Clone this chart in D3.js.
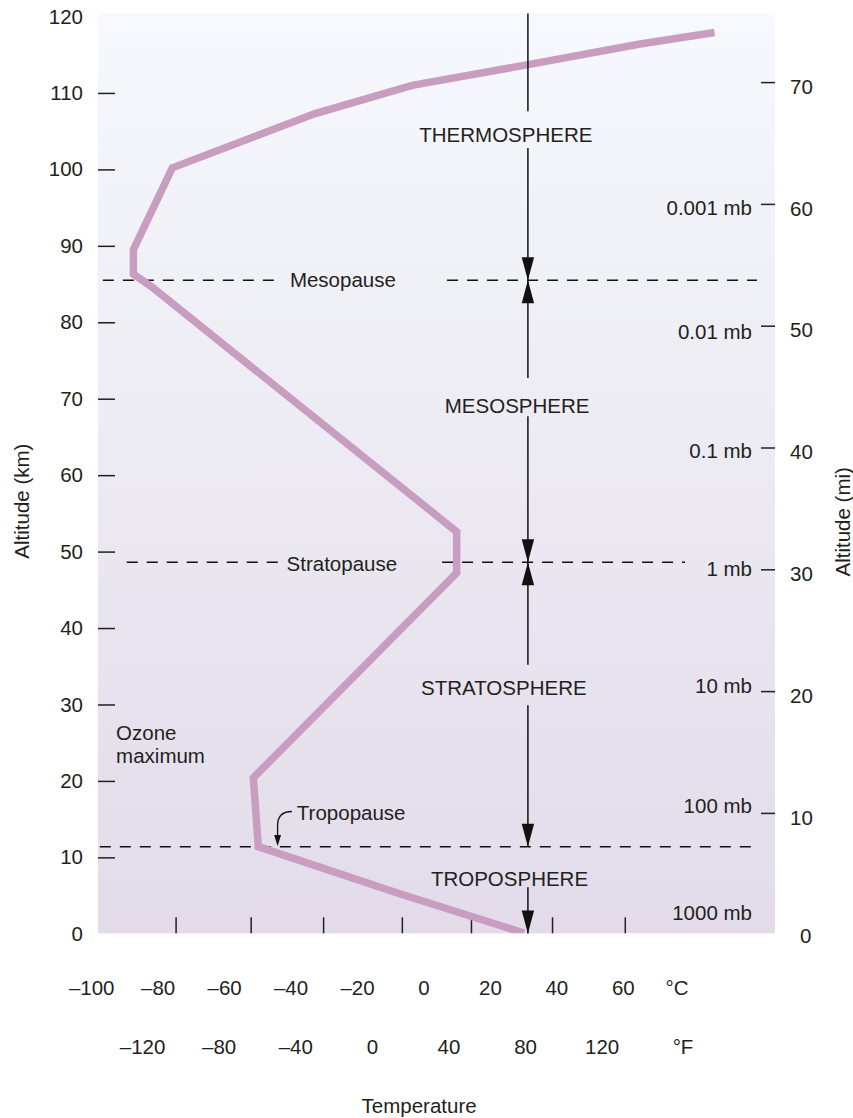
<!DOCTYPE html>
<html><head><meta charset="utf-8">
<script src="https://cdn.jsdelivr.net/npm/d3@7"></script>
<style>
body{margin:0;background:#fff}
text{font-family:"Liberation Sans",Arial,Helvetica,sans-serif;fill:#231f20;font-size:20.5px}
</style>
</head><body>
<svg id="chart" width="853" height="1118"></svg>
<script>
// ---------- data ----------
const profileAltKm = [117.9, 116.4, 113.7, 111.0, 107.3, 100.2, 89.5, 86.3, 84.6, 52.6, 47.2, 20.4, 11.4, 5.3, 0.1];
const profileTempC = [87.6, 65.2, 31.5, -3.4, -32.6, -75.6, -87.3, -87.3, -81.7, 10.0, 10.0, -51.2, -49.7, -7.6, 30.3];

const kmTicks = [0, 10, 20, 30, 40, 50, 60, 70, 80, 90, 100, 110, 120];
const kmTickMarks = [10, 20, 30, 40, 50, 60, 70, 80, 90, 100, 110];
const miTicks = [0, 10, 20, 30, 40, 50, 60, 70];
const miTickMarks = [10, 20, 30, 40, 50, 60, 70];
const celsiusTicks = [-100, -80, -60, -40, -20, 0, 20, 40, 60];
const fahrenheitTicks = [-120, -80, -40, 0, 40, 80, 120];
const tempTickMarksC = [-74.6, -52.0, -30.2, -6.5, 14.3, 38.7, 60.6];

const pressureLabels = ["0.001 mb", "0.01 mb", "0.1 mb", "1 mb", "10 mb", "100 mb", "1000 mb"];
const pressureAltMi = [59.7, 49.5, 39.7, 30.0, 20.4, 10.6, 1.8];

const boundaryNames = ["Mesopause", "Stratopause", "Tropopause"];
const boundaryAltKm = [85.5, 48.6, 11.4];
const boundaryDashSpansC = [
  [[-96.5, -42.6], [7.1, 100.4]],
  [[-89.3, -43.2], [5.6, 78.7]],
  [[-97.4, 99.0]]
];
const boundaryLabelTempC = [-40.2, -41.2, -38.1];
const boundaryLabelAltKm = [84.6, 47.5, 14.9];

const layerNames = ["THERMOSPHERE", "MESOSPHERE", "STRATOSPHERE", "TROPOSPHERE"];
const layerLabelAltKm = [103.6, 68.1, 31.2, 6.3];
const layerLabelTempC = [24.8, 28.2, 24.2, 25.9];

const arrowTempC = 31.44;
// [from km, to km, arrowhead at "to" end]
const arrowSegments = [
  [120.4, 107.6, false],
  [102.8, 85.5, true],
  [72.7, 85.5, true],
  [67.7, 48.6, true],
  [35.2, 48.6, true],
  [29.9, 11.4, true],
  [6.1, 0.05, true]
];

// ---------- layout ----------
const svg = d3.select("#chart");
const plotLeft = 98, plotRight = 775, plotTop = 13, plotBottom = 933.3;

const y = d3.scaleLinear().domain([0, 120]).range([933.8, 16.5]);
const yMi = d3.scaleLinear().domain([0, 70]).range([934.7, 82.1]);
const xC = d3.scaleLinear().domain([-98, 105.8]).range([423.45 - 98 * 3.3225, 423.45 + 105.8 * 3.3225]);
const xF = d3.scaleLinear().domain([-120, 120]).range([371.86 - 120 * 1.915, 371.86 + 120 * 1.915]);

// background gradient
const defs = svg.append("defs");
const grad = defs.append("linearGradient").attr("id", "bg").attr("x1", 0).attr("x2", 0).attr("y1", 0).attr("y2", 1);
grad.append("stop").attr("offset", "0%").attr("stop-color", "#f6f9fd");
grad.append("stop").attr("offset", "55%").attr("stop-color", "#ebe8f1");
grad.append("stop").attr("offset", "100%").attr("stop-color", "#e3dbea");
defs.append("clipPath").attr("id", "plotClip").append("rect")
  .attr("x", plotLeft).attr("y", plotTop).attr("width", plotRight - plotLeft).attr("height", plotBottom - plotTop);

svg.append("rect").attr("x", plotLeft).attr("y", plotTop).attr("width", plotRight - plotLeft).attr("height", plotBottom - plotTop)
  .attr("fill", "url(#bg)");

// ---------- left axis (km) ----------
const gL = svg.append("g").attr("transform", `translate(${plotLeft},0)`);
gL.call(d3.axisLeft(y).tickValues(kmTicks).tickSize(0).tickPadding(15).tickFormat(d3.format("d")));
gL.append("g").call(d3.axisRight(y).tickValues(kmTickMarks).tickSize(17).tickFormat(""));
gL.selectAll(".domain").remove();
gL.selectAll("text").style("font-size", "20.5px").attr("font-family", null);
gL.selectAll("line").attr("stroke", "#231f20").attr("stroke-width", 1.5);

// ---------- right axis (mi) ----------
const gR = svg.append("g").attr("transform", `translate(${plotRight},0)`);
gR.call(d3.axisRight(yMi).tickValues(miTicks).tickSize(0).tickPadding(15).tickFormat(d3.format("d")));
gR.append("g").call(d3.axisLeft(yMi).tickValues(miTickMarks).tickSize(14).tickFormat(""));
gR.selectAll(".domain").remove();
gR.selectAll("text").style("font-size", "20.5px").attr("font-family", null).attr("dy", "0.55em");
gR.selectAll(".tick").filter(d => d === 0).select("text").attr("dx", 10).attr("dy", "0.4em");
gR.selectAll("line").attr("stroke", "#231f20").attr("stroke-width", 1.5);

// pressure labels
svg.append("g").selectAll("text").data(pressureLabels).join("text")
  .attr("x", plotRight - 23).attr("y", (d, i) => yMi(pressureAltMi[i]))
  .attr("dy", "0.35em").attr("text-anchor", "end").text(d => d);

// ---------- bottom tick marks & labels ----------
const gB = svg.append("g").attr("transform", `translate(0,${plotBottom})`);
gB.call(d3.axisTop(xC).tickValues(tempTickMarksC).tickSize(16).tickFormat(""));
gB.selectAll(".domain").remove();
gB.selectAll("line").attr("stroke", "#231f20").attr("stroke-width", 1.5);

const fmtSigned = d => (d < 0 ? "\u2013" + Math.abs(d) : String(d));
const gC = svg.append("g").attr("transform", "translate(0,988)");
gC.call(d3.axisBottom(xC).tickValues(celsiusTicks).tickSize(0).tickPadding(0).tickFormat(fmtSigned));
gC.selectAll(".domain").remove();
gC.selectAll("text").attr("dy", "0.35em").attr("y", 0).style("font-size", "20.5px").attr("font-family", null);
svg.append("text").attr("x", xC(76.3)).attr("y", 988).attr("dy", "0.35em").attr("text-anchor", "middle").text("\u00b0C");

const gF = svg.append("g").attr("transform", "translate(0,1047)");
gF.call(d3.axisBottom(xF).tickValues(fahrenheitTicks).tickSize(0).tickPadding(0).tickFormat(fmtSigned));
gF.selectAll(".domain").remove();
gF.selectAll("text").attr("dy", "0.35em").attr("y", 0).style("font-size", "20.5px").attr("font-family", null);
svg.append("text").attr("x", xF(162.5)).attr("y", 1047).attr("dy", "0.35em").attr("text-anchor", "middle").text("\u00b0F");

svg.append("text").attr("x", xC(-1.3)).attr("y", 1106).attr("dy", "0.35em").attr("text-anchor", "middle").text("Temperature");

// axis titles
svg.append("text").attr("transform", `translate(22,${y(56.6)}) rotate(-90)`)
  .attr("text-anchor", "middle").attr("dy", "0.35em").text("Altitude (km)");
svg.append("text").attr("transform", `translate(843,${yMi(33.9)}) rotate(-90)`)
  .attr("text-anchor", "middle").attr("dy", "0.35em").text("Altitude (mi)");

// ---------- boundaries ----------
const gBd = svg.append("g");
boundaryNames.forEach((name, i) => {
  boundaryDashSpansC[i].forEach(span => {
    gBd.append("line")
      .attr("x1", xC(span[0])).attr("x2", xC(span[1]))
      .attr("y1", y(boundaryAltKm[i])).attr("y2", y(boundaryAltKm[i]))
      .attr("stroke", "#111").attr("stroke-width", 1.5).attr("stroke-dasharray", "11,9");
  });
  gBd.append("text").attr("x", xC(boundaryLabelTempC[i])).attr("y", y(boundaryLabelAltKm[i])).text(name);
});

// tropopause pointer
const tpStart = [xC(-39.6), y(16.0)];
const tpTip = [xC(-43.9), y(11.5)];
gBd.append("path")
  .attr("d", `M${tpStart[0]},${tpStart[1]} Q${tpTip[0]},${tpStart[1]} ${tpTip[0]},${tpStart[1] + 14} L${tpTip[0]},${tpTip[1] - 8}`)
  .attr("fill", "none").attr("stroke", "#111").attr("stroke-width", 1.3);
gBd.append("path")
  .attr("d", `M${tpTip[0]},${tpTip[1]} L${tpTip[0] - 3.5},${tpTip[1] - 11} L${tpTip[0] + 3.5},${tpTip[1] - 11} Z`)
  .attr("fill", "#111");

// ozone maximum
svg.append("text").attr("x", xC(-92.5)).attr("y", y(25.4)).text("Ozone");
svg.append("text").attr("x", xC(-92.5)).attr("y", y(22.3)).text("maximum");

// ---------- temperature profile ----------
const profile = profileAltKm.map((a, i) => [profileTempC[i], a]);
svg.append("path").datum(profile)
  .attr("clip-path", "url(#plotClip)")
  .attr("d", d3.line().x(d => xC(d[0])).y(d => y(d[1])))
  .attr("fill", "none").attr("stroke", "#c89dbf").attr("stroke-width", 7.5)
  .attr("stroke-linejoin", "miter").attr("stroke-miterlimit", 10).attr("stroke-linecap", "butt");

// ---------- layer arrows ----------
const ax = xC(arrowTempC);
const gA = svg.append("g");
arrowSegments.forEach(([from, to, head]) => {
  gA.append("line").attr("x1", ax).attr("x2", ax).attr("y1", y(from)).attr("y2", y(to))
    .attr("stroke", "#111").attr("stroke-width", 1.5);
  if (head) {
    const yt = y(to);
    const dir = y(from) < yt ? -1 : 1;
    gA.append("path")
      .attr("d", `M${ax},${yt} L${ax - 6.2},${yt + dir * 23} L${ax + 6.2},${yt + dir * 23} Z`)
      .attr("fill", "#111");
  }
});
svg.append("g").selectAll("text").data(layerNames).join("text")
  .attr("x", (d, i) => xC(layerLabelTempC[i])).attr("y", (d, i) => y(layerLabelAltKm[i]))
  .attr("text-anchor", "middle").text(d => d);
</script>
</body></html>
